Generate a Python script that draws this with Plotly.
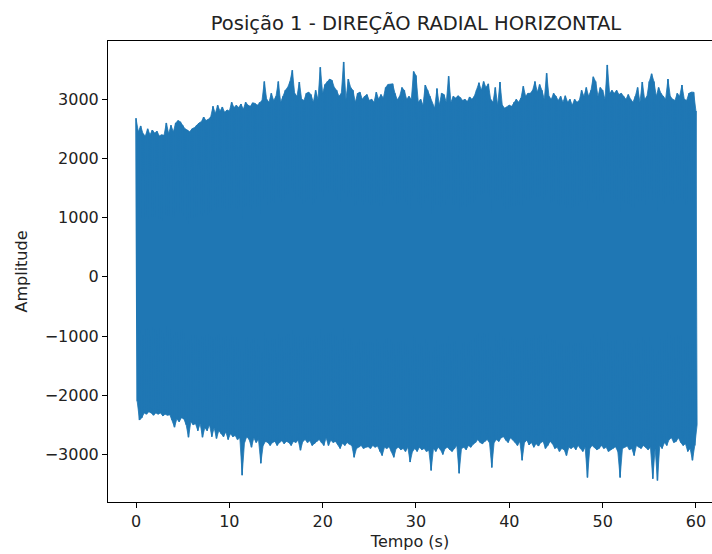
import numpy as np
import plotly.graph_objects as go

# Peak (positive) and trough (negative) amplitude of the vibration signal
# in consecutive 0.25 s windows, from t = 0 s to t = 60 s.
peak_amplitude = [
    2680, 2450, 2550, 2420, 2380, 2500, 2400, 2480, 2430, 2460, 2380, 2400, 2390, 2600, 2420, 2560, 2450, 2600, 2640, 2620,
    2560, 2500, 2480, 2450, 2500, 2520, 2560, 2600, 2620, 2700, 2640, 2660, 2700, 2880, 2760, 2900, 2800, 2870, 2780, 2820,
    2800, 2950, 2860, 2900, 2860, 2920, 2830, 2950, 2900, 2880, 2940, 2930, 2900, 2950, 2980, 3300, 3000, 2950, 3100, 2980,
    3050, 3300, 2950, 3050, 3150, 3200, 3300, 3490, 3100, 3050, 3290, 3000, 2980, 3100, 3120, 3080, 2950, 3150, 3000, 3540,
    3100, 3250, 3300, 3340, 3320, 3200, 3150, 3050, 3100, 3630, 3000, 3340, 3200, 3150, 2950, 3100, 3120, 3000, 3050, 3080,
    2980, 3000, 2950, 3120, 3000, 3080, 3020, 3200, 3250, 3250, 3260, 3100, 2990, 3050, 3200, 3150, 3000, 3050, 3000, 3470,
    3400, 2950, 3000, 2900, 3240, 3150, 3050, 2920, 2850, 3180, 2900, 3100, 3080, 2950, 3390, 2950, 3050, 3020, 3060, 3030,
    2980, 3000, 2960, 3040, 3000, 3050, 3150, 3280, 3150, 3300, 3200, 3260, 3000, 2950, 3200, 2900, 3290, 2900, 2850, 2870,
    2900, 2880, 2950, 3000, 2950, 3020, 3220, 3050, 3100, 3100, 3150, 3300, 3120, 3250, 3150, 3000, 3440, 3050, 3000, 3100,
    3050, 2980, 3050, 2950, 3060, 2950, 3000, 2900, 3000, 2950, 2980, 3150, 3050, 3200, 3050, 3150, 3380, 3300, 3050, 3200,
    3150, 3000, 3580, 3100, 3150, 3100, 3150, 3080, 3100, 3050, 3000, 3080, 3000, 2950, 3050, 3200, 2950, 3290, 3000, 3050,
    3300, 3430, 3300, 3050, 3200, 3100, 3050, 3000, 3340, 3050, 3000, 2980, 3100, 3050, 3240, 3000, 2980, 3100, 3120, 3120,
    2800,
]

trough_amplitude = [
    -2100, -2420, -2380, -2300, -2320, -2280, -2300, -2340, -2300, -2320, -2300, -2350, -2320, -2340, -2330, -2420, -2540, -2400, -2450, -2380,
    -2400, -2500, -2710, -2450, -2500, -2480, -2600, -2480, -2710, -2550, -2600, -2500, -2700, -2550, -2730, -2600, -2650, -2700, -2620, -2750,
    -2650, -2700, -2680, -2750, -2720, -3350, -2800, -2700, -2750, -2880, -2720, -2800, -2750, -3150, -2850, -2780, -2800, -2850, -2800, -2780,
    -2850, -2800, -2770, -2820, -2780, -2800, -2850, -2780, -2800, -2760, -2930, -2780, -2750, -2800, -2770, -2850, -2820, -2780, -2750, -2800,
    -2850, -2720, -2850, -2760, -2800, -2780, -2830, -2900, -2810, -2850, -2800, -2830, -2850, -3050, -2900, -2880, -2850, -2900, -2880, -2870,
    -2900, -2850, -2880, -2860, -2950, -3020, -2880, -2900, -2870, -2950, -3050, -2900, -2880, -2920, -2900, -2950, -2880, -3130, -2950, -2900,
    -2950, -2880, -2920, -2900, -2950, -2930, -3270, -2900, -2950, -2880, -2920, -3000, -2900, -2880, -2920, -2950, -2900, -2850, -3320, -2900,
    -2880, -2920, -2850, -2880, -2830, -2800, -2750, -2800, -2820, -2780, -2750, -2800, -3220, -2800, -2750, -2780, -2720, -2700, -2760, -2800,
    -2720, -2750, -2800, -2850, -2780, -3100, -2800, -2760, -2840, -2800, -2880, -2820, -2860, -2800, -2780, -2900, -2850, -2780, -2820, -2900,
    -2880, -2950, -2900, -2920, -3020, -2880, -2900, -2870, -2920, -2850, -2900, -2950, -2880, -3390, -2900, -2850, -2880, -2920, -2900, -2850,
    -2900, -2880, -2950, -2920, -2900, -2870, -2950, -3390, -2900, -2880, -2860, -2920, -2900, -3020, -2850, -2880, -2900, -2850, -2880, -2920,
    -2880, -3410, -2900, -3440, -2850, -2900, -2800, -2850, -2750, -2720, -2800, -2780, -2720, -2800, -2850, -2820, -2950, -2900, -3100, -2850,
    -2500,
]

window_s = 0.25
x_ticks = [0, 10, 20, 30, 40, 50, 60]
y_ticks = [-3000, -2000, -1000, 0, 1000, 2000, 3000]
y_tick_text = [f"{v}".replace("-", "\u2212") for v in y_ticks]

blue = "#1f77b4"
n = len(peak_amplitude)
t_peak = np.arange(n) * window_s
t_trough = t_peak + window_s / 2

# Interleave peak and trough of each window into one oscillating trace
t = np.empty(2 * n)
amp = np.empty(2 * n)
t[0::2] = t_peak
t[1::2] = t_trough
amp[0::2] = peak_amplitude
amp[1::2] = trough_amplitude
t, amp = t[:-1], amp[:-1]

fig = go.Figure()
# Dense oscillation body: area between the peak and trough envelopes
fig.add_trace(
    go.Scatter(
        x=np.concatenate([t_peak, t_trough[::-1]]),
        y=np.concatenate([peak_amplitude, trough_amplitude[::-1]]),
        mode="lines",
        fill="toself",
        fillcolor=blue,
        line=dict(color=blue, width=0.8),
        hoverinfo="skip",
    )
)
fig.add_trace(
    go.Scatter(
        x=t,
        y=amp,
        mode="lines",
        line=dict(color=blue, width=1.6),
        hoverinfo="skip",
    )
)

font_family = "DejaVu Sans"
fig.update_layout(
    width=712,
    height=554,
    margin=dict(l=108, r=0, t=41, b=52),
    paper_bgcolor="white",
    plot_bgcolor="white",
    showlegend=False,
    font=dict(family=font_family, size=16, color="#222222"),
    title=dict(
        text="Posição 1 - DIREÇÃO RADIAL HORIZONTAL",
        x=416 / 712,
        xref="container",
        xanchor="center",
        y=1 - 23 / 554,
        yref="container",
        yanchor="middle",
        font=dict(family=font_family, size=19.5, color="#222222"),
    ),
)

fig.update_xaxes(
    range=[-3.0, 61.72],
    tickvals=x_ticks,
    ticktext=[str(v) for v in x_ticks],
    ticks="outside",
    ticklen=5,
    tickwidth=1,
    tickcolor="black",
    showline=True,
    linecolor="black",
    linewidth=1,
    mirror=True,
    showgrid=False,
    zeroline=False,
    title=dict(text="Tempo (s)", standoff=5, font=dict(size=16)),
)
fig.update_yaxes(
    range=[-3804, 3984],
    tickvals=y_ticks,
    ticktext=y_tick_text,
    ticks="outside",
    ticklen=5,
    tickwidth=1,
    tickcolor="black",
    showline=True,
    linecolor="black",
    linewidth=1,
    showgrid=False,
    zeroline=False,
    title=dict(text="Amplitude", standoff=13, font=dict(size=16)),
)

fig.write_html("out.html")
